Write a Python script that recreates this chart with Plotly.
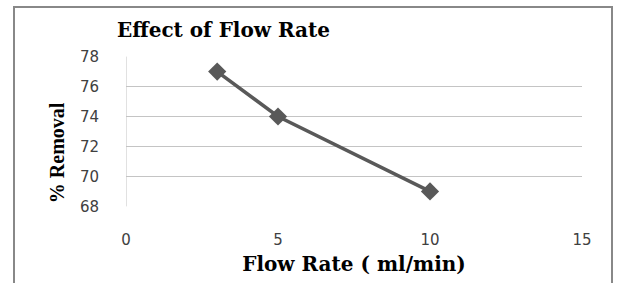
import plotly.graph_objects as go

flow_rate = [3, 5, 10]
removal = [77, 74, 69]
x_ticks = [0, 5, 10, 15]
y_ticks = [68, 70, 72, 74, 76, 78]
title_text = "Effect of Flow Rate"
x_title = "Flow Rate ( ml/min)"
y_title = "% Removal"

W, H = 619, 283
L, R, T, B = 126, 582, 56, 213  # plot area in px

fig = go.Figure()
fig.add_trace(go.Scatter(
    x=flow_rate, y=removal, mode="lines+markers",
    line=dict(color="#595959", width=3.5),
    marker=dict(symbol="diamond", size=14, color="#595959"),
    showlegend=False, cliponaxis=False,
))

def px_to_paper_x(px):
    return (px - L) / (R - L)

def px_to_paper_y(py):
    return (B - py) / (B - T)

fig.update_layout(
    width=W, height=H,
    margin=dict(l=L, r=W - R, t=T, b=H - B),
    paper_bgcolor="white", plot_bgcolor="white",
    title=dict(text="<b>" + title_text + "</b>", x=117 / W, xanchor="left",
               y=1 - 30 / H, yanchor="middle",
               font=dict(family="DejaVu Serif", size=20, color="#000000")),
    xaxis=dict(range=[0, 15], tickvals=x_ticks, showgrid=False, zeroline=False,
               showline=False, ticks="", ticklabelstandoff=22,
               tickfont=dict(family="DejaVu Sans", size=15, color="#404040"),
               title=dict(text="<b>" + x_title + "</b>", standoff=8,
                          font=dict(family="DejaVu Serif", size=20, color="#000000"))),
    yaxis=dict(range=[67.96, 78.04], tickvals=y_ticks, showgrid=True, gridcolor="#c4c4c4",
               gridwidth=1, zeroline=False, showline=False, ticks="",
               ticklabelstandoff=26,
               tickfont=dict(family="DejaVu Sans", size=15, color="#404040")),
    shapes=[
        dict(type="rect", xref="paper", yref="paper",
             x0=px_to_paper_x(14), x1=px_to_paper_x(612),
             y0=px_to_paper_y(300), y1=px_to_paper_y(5),
             line=dict(color="#888888", width=2), fillcolor="rgba(0,0,0,0)",
             layer="below"),
        dict(type="line", xref="x", yref="y", x0=0, x1=0, y0=68, y1=78,
             line=dict(color="#c4c4c4", width=1), layer="below"),
    ],
    annotations=[dict(text="<b>" + y_title + "</b>", textangle=-90,
                      xref="paper", yref="paper",
                      x=px_to_paper_x(57), y=px_to_paper_y(157),
                      xanchor="center", yanchor="middle", showarrow=False,
                      font=dict(family="Liberation Serif", size=20, color="#000000"))],
)

fig.write_html("out.html", config={"displayModeBar": False},
               post_script="document.body.style.margin='0';document.body.style.overflow='hidden';")
